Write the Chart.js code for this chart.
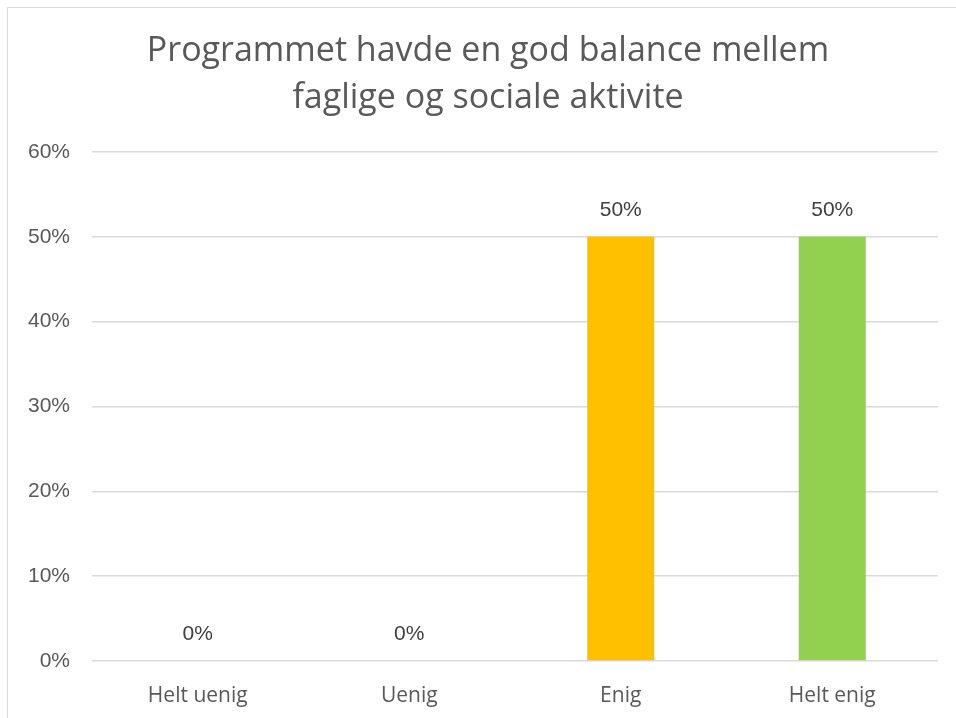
<!DOCTYPE html>
<html>
<head>
<meta charset="utf-8">
<script src="https://cdn.jsdelivr.net/npm/chart.js@4/dist/chart.umd.min.js"></script>
<style>
html,body{margin:0;padding:0;background:#fff;}
#wrap{position:relative;width:956px;height:718px;overflow:hidden;}
#frame{position:absolute;left:7px;top:7px;width:1000px;height:800px;border:1px solid #d9d9d9;box-sizing:border-box;}
canvas{position:absolute;left:0;top:0;}
</style>
</head>
<body>
<div id="wrap"><div id="frame"></div><canvas id="c" width="956" height="718"></canvas></div>
<script>
const titleLines = ["Programmet havde en god balance mellem", "faglige og sociale aktivite"];
const categories = ["Helt uenig", "Uenig", "Enig", "Helt enig"];
const values = [0, 0, 50, 50];
const barColors = ["#4472C4", "#ED7D31", "#FFC000", "#92D050"];
const yTicks = [0, 10, 20, 30, 40, 50, 60];

const valueLabels = {
  id: 'valueLabels',
  afterDatasetsDraw(chart) {
    const ctx = chart.ctx;
    const meta = chart.getDatasetMeta(0);
    ctx.save();
    ctx.font = '21px "Liberation Sans", Arial, sans-serif';
    ctx.fillStyle = '#404040';
    ctx.textAlign = 'center';
    ctx.textBaseline = 'middle';
    meta.data.forEach((bar, i) => {
      ctx.fillText(values[i] + '%', bar.x, bar.y - 27);
    });
    ctx.restore();
  }
};

const titleCenter = {
  id: 'titleCenter',
  afterLayout(chart) {
    if (chart.titleBlock) { chart.titleBlock.left = 8; chart.titleBlock.right = 968; }
  }
};

new Chart(document.getElementById('c'), {
  type: 'bar',
  data: {
    labels: categories,
    datasets: [{
      data: values,
      backgroundColor: barColors,
      barPercentage: 0.317,
      categoryPercentage: 1.0
    }]
  },
  options: {
    responsive: false,
    animation: false,
    layout: { padding: { left: 8, right: 18, top: 8, bottom: 0 } },
    plugins: {
      legend: { display: false },
      tooltip: { enabled: false },
      title: {
        display: true,
        text: titleLines,
        color: '#595959',
        font: { family: '"Open Sans", "Noto Sans", sans-serif', size: 34, weight: 'normal', lineHeight: 47 / 34 },
        padding: { top: 20, bottom: 30 }
      }
    },
    scales: {
      x: {
        grid: { display: false },
        border: { display: false },
        ticks: {
          color: '#595959',
          font: { family: '"Open Sans", "Noto Sans", sans-serif', size: 21 },
          padding: 14
        },
        afterFit(scale) { scale.height = 57; }
      },
      y: {
        min: 0,
        max: 60,
        afterBuildTicks(scale) { scale.ticks = yTicks.map(v => ({ value: v })); },
        grid: { color: '#d9d9d9', lineWidth: 1.5, drawTicks: false },
        border: { display: false },
        ticks: {
          color: '#595959',
          font: { family: '"Liberation Sans", Arial, sans-serif', size: 21 },
          padding: 22,
          callback: v => v + '%'
        },
        afterFit(scale) { scale.width = 84; }
      }
    }
  },
  plugins: [valueLabels, titleCenter]
});
</script>
</body>
</html>
